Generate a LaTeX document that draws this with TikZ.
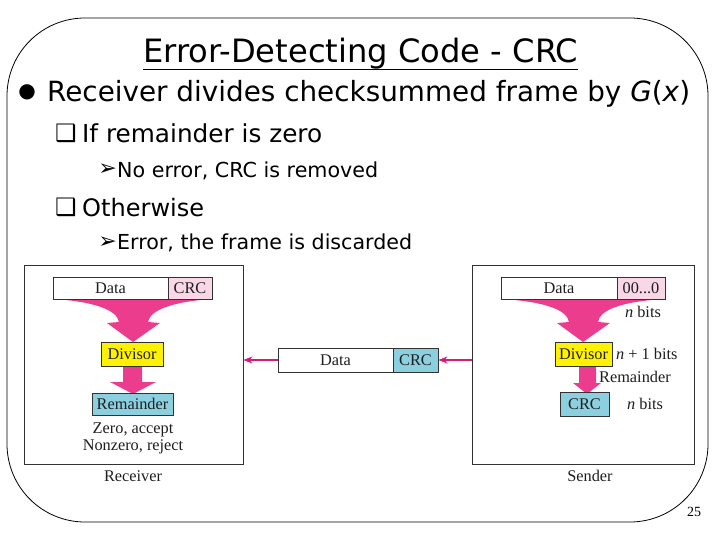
\documentclass[tikz,border=0pt]{standalone}
\usepackage{fontspec}
\setmainfont{Liberation Serif}
\newfontfamily\tah{DejaVu Sans}
\newfontfamily\djsym{DejaVu Sans}
\usetikzlibrary{arrows.meta}
\definecolor{funnelpink}{RGB}{236,60,142}
\definecolor{lightpink}{RGB}{250,215,230}
\definecolor{cyanbox}{RGB}{140,208,224}
\definecolor{boxgray}{RGB}{50,50,50}
\definecolor{figtext}{RGB}{30,30,30}
\definecolor{linkpink}{RGB}{215,25,120}
\newcommand\figfont{\fontsize{16.3}{18}\selectfont}
\newcommand\fitw[2]{\resizebox{#1}{!}{#2}}
\tikzset{
  fbox/.style={draw=boxgray, line width=0.8pt, inner sep=0pt, font=\figfont, text=figtext},
  frame/.style={draw=boxgray, line width=0.8pt, fill=white, inner sep=0pt},
  flabel/.style={inner sep=0pt, font=\figfont, text=figtext},
  slidetext/.style={inner sep=0pt, anchor=base west},
  link/.style={draw=linkpink, line width=1.4pt, -{Stealth[length=9pt,width=7pt]}},
  fun/.style={fill=funnelpink, draw=none}
}
\begin{document}
\begin{tikzpicture}[x=1pt,y=-1pt]
\useasboundingbox (0,0) rectangle (720,540);
% slide border
\draw[line width=0.8pt, rounded corners=78pt] (7,18) rectangle (708,522);
% title
\node[slidetext] (title) at (143,63) {\fitw{435pt}{\tah Error-Detecting Code - CRC}};
\draw[line width=1.5pt] (143,69.5) -- (578,69.5);
% bullet level 1
\node[inner sep=0pt] (b1) at (27,92) {\djsym\fontsize{20}{20}\selectfont ●};
\node[slidetext] (t1) at (47,102) {\fitw{643pt}{\tah Receiver divides checksummed frame by \textit{G}(\textit{x})}};
% level 2
\node[inner sep=0pt] (b2) at (66,133) {\djsym\fontsize{24}{24}\selectfont ❑};
\node[slidetext] (t2) at (82,143) {\fitw{240pt}{\tah If remainder is zero}};
\node[inner sep=0pt] (b3) at (107.5,170) {\djsym\fontsize{22}{22}\selectfont ➢};
\node[slidetext] (t3) at (117,178) {\fitw{261pt}{\tah No error, CRC is removed}};
\node[inner sep=0pt] (b4) at (66,207) {\djsym\fontsize{24}{24}\selectfont ❑};
\node[slidetext] (t4) at (82,217) {\fitw{122pt}{\tah Otherwise}};
\node[inner sep=0pt] (b5) at (107.5,243) {\djsym\fontsize{22}{22}\selectfont ➢};
\node[slidetext] (t5) at (117,250) {\fitw{295pt}{\tah Error, the frame is discarded}};
% ---------- receiver ----------
\node[frame, minimum width=219pt, minimum height=199pt] (lbox) at (133.5,364.5) {};
\fill[fun] (55,299) .. controls (95,302) and (117,310) .. (119,322) -- (107,323) -- (133,342) -- (160,323) -- (148,322) .. controls (150,310) and (172,302) .. (211,299) -- cycle;
\fill[fun] (123,365) -- (142,365) -- (142,382) -- (156,382) -- (133,394) -- (110,382) -- (123,382) -- cycle;
\node[fbox, fill=white, minimum width=115pt, minimum height=22pt] (ldata) at (110.5,288) {Data};
\node[fbox, fill=lightpink, minimum width=44pt, minimum height=22pt] (lcrc) at (190,288) {CRC};
\node[fbox, fill=yellow, minimum width=62pt, minimum height=24pt] (ldiv) at (132,354) {Divisor};
\node[fbox, fill=cyanbox, minimum width=81pt, minimum height=22pt] (lrem) at (132.5,404) {Remainder};
\node[flabel] (lz) at (133,430) {Zero, accept};
\node[flabel] (lnz) at (133,447) {Nonzero, reject};
\node[flabel] (lcap) at (133,476) {Receiver};
% ---------- sender ----------
\node[frame, minimum width=222pt, minimum height=199pt] (rbox) at (583,364.5) {};
\fill[fun] (503,299) .. controls (546,302) and (567,310) .. (569,322) -- (557,323) -- (583,342) -- (610,323) -- (598,322) .. controls (600,310) and (620,302) .. (663,299) -- cycle;
\fill[fun] (579,365) -- (596,365) -- (596,383) -- (601,383) -- (587,394) -- (573,383) -- (579,383) -- cycle;
\node[fbox, fill=white, minimum width=116pt, minimum height=22pt] (rdata) at (559,288) {Data};
\node[fbox, fill=lightpink, minimum width=48pt, minimum height=22pt] (rzero) at (641,288) {00...0};
\node[flabel] (rnb1) at (643,312) {\textit{n} bits};
\node[fbox, fill=yellow, minimum width=57pt, minimum height=24pt] (rdiv) at (583.5,354) {Divisor};
\node[flabel, anchor=west] (rn1) at (616,354) {\textit{n} + 1 bits};
\node[flabel, anchor=west] (rremt) at (599,377) {Remainder};
\node[fbox, fill=cyanbox, minimum width=49pt, minimum height=24pt] (rcrc) at (584.5,404) {CRC};
\node[flabel, anchor=west] (rnb2) at (627,404) {\textit{n} bits};
\node[flabel] (rcap) at (590,476) {Sender};
% ---------- transmitted frame ----------
\node[fbox, fill=white, minimum width=115pt, minimum height=24pt] (mdata) at (335.5,360) {Data};
\node[fbox, fill=cyanbox, minimum width=45pt, minimum height=24pt] (mcrc) at (415.5,360) {CRC};
\draw[link] (rbox.west |- mcrc.east) -- (mcrc.east);
\draw[link] (mdata.west) -- (lbox.east |- mdata.west);
% page number
\node[inner sep=0pt, font=\fontsize{14}{14}\selectfont] (pg) at (694,512) {25};
\end{tikzpicture}
\end{document}
